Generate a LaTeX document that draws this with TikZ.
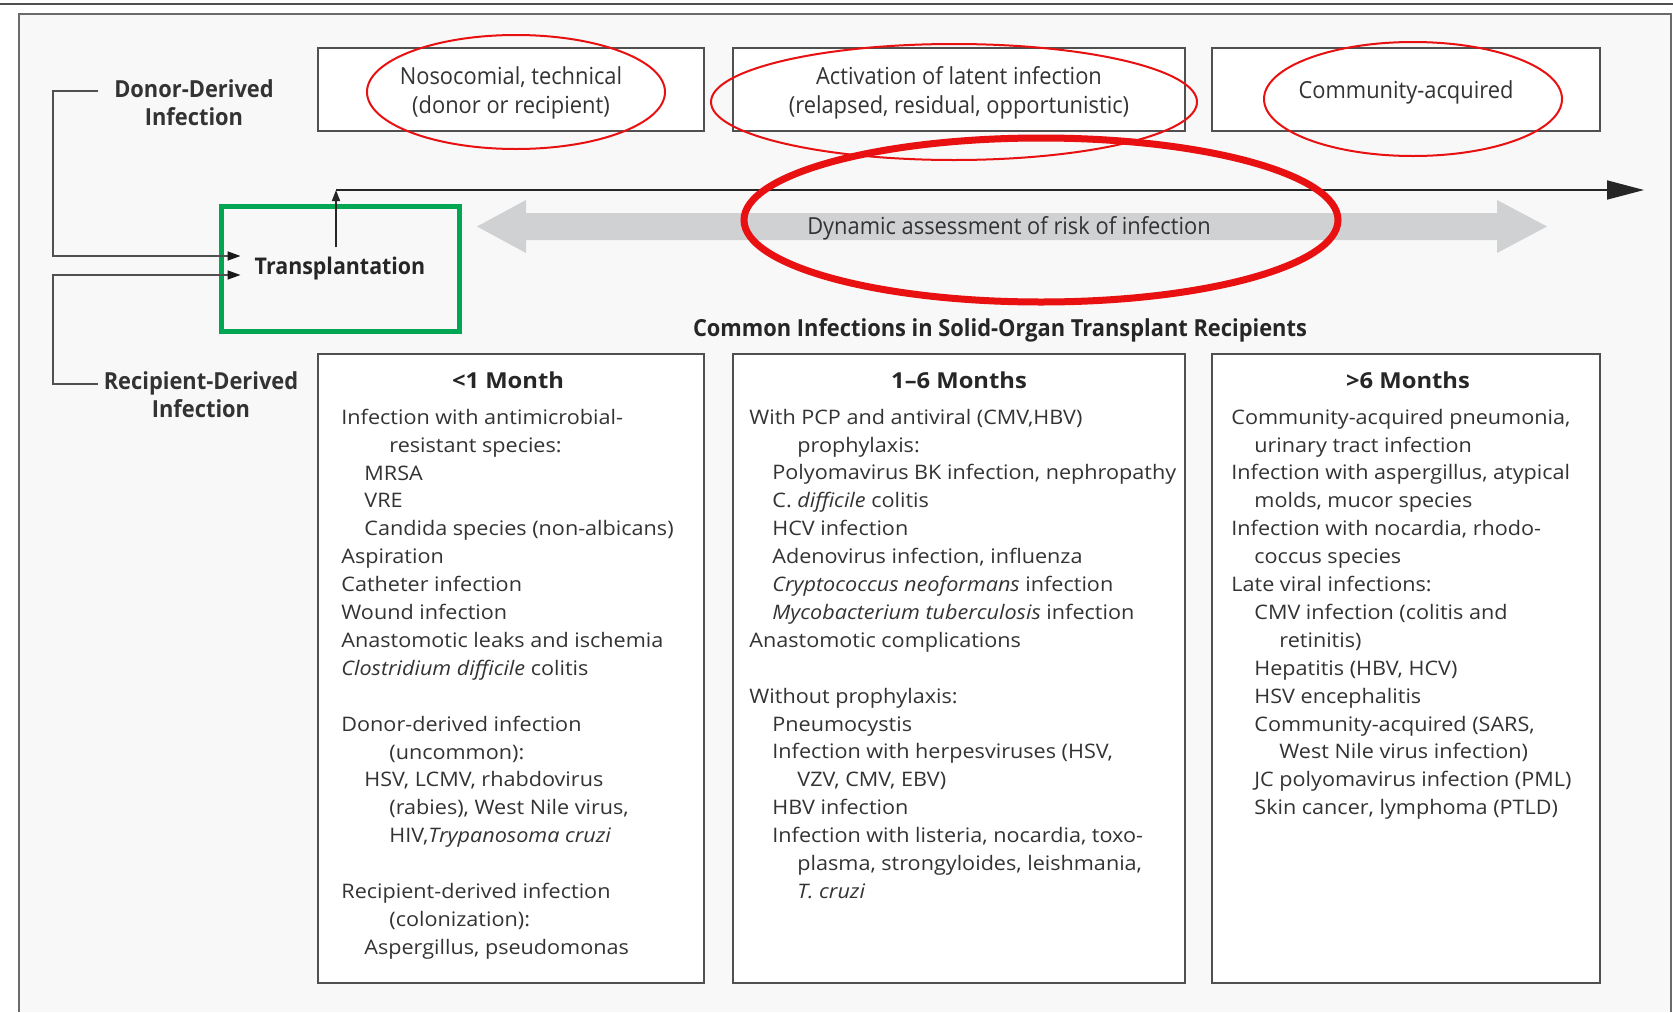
\documentclass[tikz,border=0pt]{standalone}
\usepackage{fontspec}
\setmainfont[FakeStretch=1.08]{Open Sans}
\newfontfamily\labelfont[FakeStretch=0.93]{Open Sans}
\usetikzlibrary{arrows.meta,positioning}
\definecolor{inkgray}{HTML}{333333}
\definecolor{rulegray}{HTML}{505050}
\definecolor{panelbg}{HTML}{F8F8F8}
\definecolor{riskgray}{HTML}{D0D1D3}
\definecolor{markgreen}{HTML}{00A651}
\definecolor{markred}{HTML}{E81010}
\newcommand{\inda}{\hspace*{23pt}}
\newcommand{\indb}{\hspace*{48pt}}

\begin{document}
\begin{tikzpicture}[x=1pt,y=-1pt,
    topbox/.style={draw=rulegray, line width=1.6pt, fill=white, minimum height=83pt, inner sep=0pt},
    toptext/.style={align=center, inner sep=0pt, yshift=-3pt, text=inkgray,
      font=\labelfont\fontsize{23.5}{29}\selectfont},
    colbox/.style={draw=rulegray, line width=1.6pt, fill=white, minimum height=629pt, inner sep=0pt},
    colhead/.style={font=\bfseries\fontsize{22}{26}\selectfont, text=black!85},
    collist/.style={anchor=north west, align=left, inner sep=0pt, text=inkgray,
      font=\fontsize{20}{27.9}\selectfont},
    sidelabel/.style={align=center, inner sep=0pt, text=black!80,
      font=\labelfont\bfseries\fontsize{23.5}{28}\selectfont},
    transbox/.style={draw=markgreen, line width=5pt, minimum width=238pt, minimum height=125pt,
      text=black!85, font=\labelfont\bfseries\fontsize{23}{26}\selectfont},
    feed/.style={draw=rulegray, line width=1.6pt, -{Triangle[length=13pt,width=9pt,color=black!90]}},
    redmark/.style={draw=markred, line width=2pt}
  ]
\useasboundingbox (0,0) rectangle (1673,1012);
% ------ page and frame ------
\fill[white] (0,0) rectangle (1673,1012);
\fill[panelbg] (19,14) rectangle (1671,1012);
\draw[rulegray!85, line width=2pt] (19,1012) -- (19,14) -- (1671,14) -- (1671,1012);
\draw[rulegray, line width=2.5pt] (0,4) -- (1673,4);

% ------ sources of infection ------
\node[topbox, minimum width=386pt, label={[toptext]center:{Nosocomial, technical\\(donor or recipient)}}] (noso) at (511,89.5) {};
\node[topbox, minimum width=452pt, label={[toptext]center:{Activation of latent infection\\(relapsed, residual, opportunistic)}}] (latent) at (959,89.5) {};
\node[topbox, minimum width=388pt, label={[toptext]center:{Community-acquired}}] (comm) at (1406,89.5) {};

% ------ donor / recipient ------
\node[sidelabel] (donor) at (194,103) {Donor-Derived\\Infection};
\node[sidelabel] (recip) at (201,395) {Recipient-Derived\\Infection};
\node[transbox] (trans) at (340,268.5) {Transplantation};
\coordinate (donorend) at (98,91);
\coordinate (recipend) at (98,384);
\draw[feed] (donorend) -- ++(-45,0) |- ([xshift=22pt,yshift=12.5pt]trans.west);
\draw[feed] (recipend) -- ++(-45,0) |- ([xshift=22pt,yshift=-6.5pt]trans.west);

% ------ time line ------
\coordinate (tstem) at (336,247);
\coordinate (t0) at (336,190);
\coordinate (t1) at (1644,190);
\draw[black!85, line width=1.6pt, -{Triangle[length=11pt,width=8pt]}] (tstem) -- (t0);
\draw[black!85, line width=1.6pt, -{Triangle[length=37pt,width=19pt]}] (t0) -- (t1);
\fill[riskgray] (477,226.5) -- (526,200) -- (526,213) -- (1497,213) -- (1497,200) -- (1547,226.5)
   -- (1497,253) -- (1497,240) -- (526,240) -- (526,253) -- cycle;
\node[text=inkgray, font=\labelfont\fontsize{23.5}{26}\selectfont] (risk) at (1009,228) {Dynamic assessment of risk of infection};

% ------ common infections ------
\node[text=black!85, font=\labelfont\bfseries\fontsize{23.5}{26}\selectfont] (title) at (1000,330)
   {Common Infections in Solid-Organ Transplant Recipients};
\node[colbox, minimum width=386pt] (early) at (511,668.5) {};
\node[colbox, minimum width=452pt] (mid) at (959,668.5) {};
\node[colbox, minimum width=388pt] (late) at (1406,668.5) {};
\node[colhead] (earlyhead) at ([xshift=-3pt,yshift=-27pt]early.north) {<1 Month};
\node[colhead] (midhead) at ([yshift=-27pt]mid.north) {1–6 Months};
\node[colhead] (latehead) at ([xshift=2pt,yshift=-27pt]late.north) {>6 Months};

\node[collist] (earlylist) at ([xshift=24pt,yshift=-55.5pt]early.north west) {%
Infection with antimicrobial-\\
\indb resistant species:\\
\inda MRSA\\
\inda VRE\\
\inda Candida species (non-albicans)\\
Aspiration\\
Catheter infection\\
Wound infection\\
Anastomotic leaks and ischemia\\
\textit{Clostridium difficile} colitis\\[27.9pt]
Donor-derived infection\\
\indb (uncommon):\\
\inda HSV, LCMV, rhabdovirus\\
\indb (rabies), West Nile virus,\\
\indb HIV,\textit{Trypanosoma cruzi}\\[27.9pt]
Recipient-derived infection\\
\indb (colonization):\\
\inda Aspergillus, pseudomonas};

\node[collist] (midlist) at ([xshift=17pt,yshift=-55.5pt]mid.north west) {%
With PCP and antiviral (CMV,HBV)\\
\indb prophylaxis:\\
\inda Polyomavirus BK infection, nephropathy\\
\inda C.~\textit{difficile} colitis\\
\inda HCV infection\\
\inda Adenovirus infection, influenza\\
\inda \textit{Cryptococcus neoformans} infection\\
\inda \textit{Mycobacterium tuberculosis} infection\\
Anastomotic complications\\[27.9pt]
Without prophylaxis:\\
\inda Pneumocystis\\
\inda Infection with herpesviruses (HSV,\\
\indb VZV, CMV, EBV)\\
\inda HBV infection\\
\inda Infection with listeria, nocardia, toxo-\\
\indb plasma, strongyloides, leishmania,\\
\indb \textit{T. cruzi}};

\node[collist] (latelist) at ([xshift=20pt,yshift=-55.5pt]late.north west) {%
Community-acquired pneumonia,\\
\inda urinary tract infection\\
Infection with aspergillus, atypical\\
\inda molds, mucor species\\
Infection with nocardia, rhodo-\\
\inda coccus species\\
Late viral infections:\\
\inda CMV infection (colitis and\\
\indb retinitis)\\
\inda Hepatitis (HBV, HCV)\\
\inda HSV encephalitis\\
\inda Community-acquired (SARS,\\
\indb West Nile virus infection)\\
\inda JC polyomavirus infection (PML)\\
\inda Skin cancer, lymphoma (PTLD)};

% ------ red marks ------
\draw[redmark] (516,92) ellipse [x radius=149pt, y radius=57pt];
\draw[redmark] (954,102) ellipse [x radius=243pt, y radius=58pt];
\draw[redmark] (1413,99) ellipse [x radius=149pt, y radius=57pt];
\draw[redmark, line width=7pt] (1041,220) ellipse [x radius=297pt, y radius=82pt];
\end{tikzpicture}
\end{document}
